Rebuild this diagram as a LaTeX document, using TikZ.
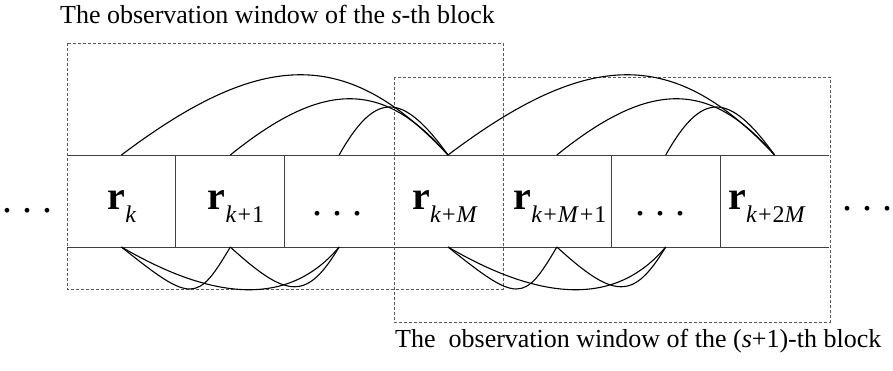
\documentclass[tikz,border=0pt]{standalone}
\usepackage{fontspec}
\setmainfont{Liberation Serif}
\newcommand\rlab[1]{{\fontsize{40}{40}\selectfont\bfseries r}\raisebox{-13pt}{\fontsize{24}{24}\selectfont #1}}
\newcommand\pl{\kern1pt+\kern1pt}
\begin{document}
\begin{tikzpicture}[x=1pt,y=-1pt,
  cell/.style={minimum width=108.857pt,minimum height=92pt,inner sep=0pt,outer sep=0pt},
  rowline/.style={line width=0.9pt,draw=black!75},
  arcline/.style={line width=1.1pt,draw=black},
  window/.style={dash pattern=on 3pt off 2pt,line width=0.8pt,draw=black!65},
  lab/.style={anchor=base,inner sep=0pt},
  dots/.style={anchor=base,inner sep=0pt,font=\fontsize{40}{40}\selectfont},
  caption/.style={anchor=base west,inner sep=0pt,font=\fontsize{26}{26}\selectfont}]
\useasboundingbox (0,0) rectangle (893,371);
% cells
\foreach \i in {1,...,7} \node[cell] (c\i) at ({67+108.857*(\i-0.5)},201) {};
\draw[rowline] (c1.north west) -- (c7.north east);
\draw[rowline] (c1.south west) -- (c7.south east);
\foreach \i in {1,2,5,6} \draw[rowline] (c\i.north east) -- (c\i.south east);
% observation windows
\draw[window] (67,43) rectangle (503,289);
\draw[window] (394,77) rectangle (830,322);
% upper arcs
\draw[arcline] (c1.north) .. controls +(142,-107) and +(-100,-107) .. (c4.north);
\draw[arcline] (c2.north) .. controls +(93,-75) and +(-65,-75) .. (c4.north);
\draw[arcline] (c3.north) .. controls +(36,-64) and +(-46,-64) .. (c4.north);
\draw[arcline] (c4.north) .. controls +(142,-107) and +(-100,-107) .. (c7.north);
\draw[arcline] (c5.north) .. controls +(93,-75) and +(-65,-75) .. (c7.north);
\draw[arcline] (c6.north) .. controls +(36,-64) and +(-46,-64) .. (c7.north);
% lower arcs
\draw[arcline] (c1.south) .. controls +(70,56) and +(-33,56) .. (c2.south);
\draw[arcline] (c1.south) .. controls +(98,57) and +(-48,57) .. (c3.south);
\draw[arcline] (c2.south) .. controls +(58,53) and +(-32,53) .. (c3.south);
\draw[arcline] (c4.south) .. controls +(70,56) and +(-33,56) .. (c5.south);
\draw[arcline] (c4.south) .. controls +(98,57) and +(-48,57) .. (c6.south);
\draw[arcline] (c5.south) .. controls +(58,53) and +(-32,53) .. (c6.south);
% labels
\node[lab] (l1) at (122,210) {\rlab{\textit{k}}};
\node[lab] (l2) at (236,210) {\rlab{\textit{k}\pl1}};
\node[lab] (l4) at (445,210) {\rlab{\textit{k}\pl\textit{M}}};
\node[lab] (l5) at (560,210) {\rlab{\textit{k}\pl\textit{M}\pl1}};
\node[lab] (l7) at (767,210) {\rlab{\textit{k}\pl2\textit{M}}};
% dots
\node[dots] (d0) at (27,213) {.\ .\ .};
\node[dots] (d3) at (337,215) {.\ .\ .};
\node[dots] (d6) at (660,215) {.\ .\ .};
\node[dots] (d8) at (867,211) {.\ .\ .};
% captions
\node[caption] (t1) at (60,24) {The observation window of the \textit{s}-th block};
\node[caption] (t2) at (395,347) {The\ \ observation window of the (\textit{s}+1)-th block};
\end{tikzpicture}
\end{document}
